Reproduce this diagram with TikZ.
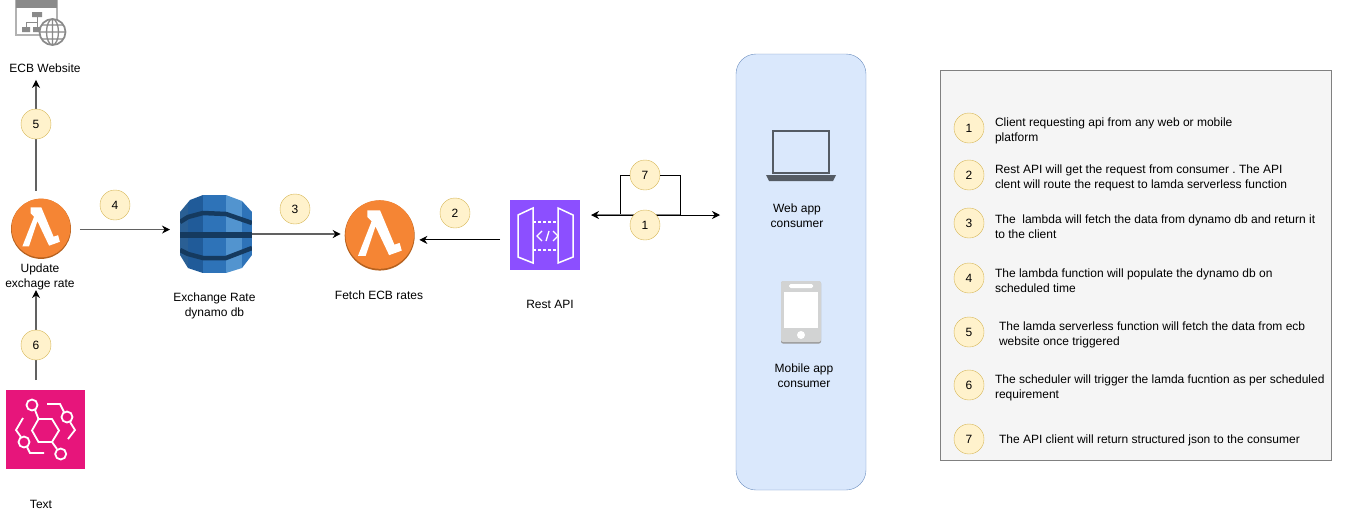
\documentclass[tikz,border=0pt]{standalone}
\usepackage{fontspec}
\setmainfont{Liberation Sans}
\usetikzlibrary{arrows.meta}
\frenchspacing

\definecolor{badgefill}{HTML}{FFF2CC}
\definecolor{badgeline}{HTML}{D6B656}
\definecolor{lamorange}{HTML}{F58534}
\definecolor{lamrim}{HTML}{B5611F}
\definecolor{panelfill}{HTML}{DAE8FC}
\definecolor{panelline}{HTML}{6C8EBF}
\definecolor{notefill}{HTML}{F5F5F5}
\definecolor{noteline}{HTML}{808080}
\definecolor{dbouter}{HTML}{2A5F94}
\definecolor{dbleft}{HTML}{205B99}
\definecolor{dbmid}{HTML}{2E73B8}
\definecolor{dbright}{HTML}{5294CF}
\definecolor{dbdark}{HTML}{153A5F}
\definecolor{apipurple}{HTML}{8C4FFF}
\definecolor{eventpink}{HTML}{E7157B}
\definecolor{laptopgrey}{HTML}{545B64}
\definecolor{phonegrey}{HTML}{D2D3D3}
\definecolor{webgrey}{HTML}{8A8A8A}

\tikzstyle{badge}=[circle, minimum width=30, inner sep=0, outer sep=0, draw=badgeline, fill=badgefill, font=\fontsize{12}{15}\selectfont]
\tikzstyle{label}=[align=center, inner sep=0, outer sep=0, font=\fontsize{12}{15}\selectfont]
\tikzstyle{noteline}=[anchor=west, align=left, inner sep=0, outer sep=0, font=\fontsize{12}{15}\selectfont]
\tikzstyle{lamnode}=[circle, inner sep=0, outer sep=0]
\tikzstyle{iconbox}=[rectangle, inner sep=0, outer sep=0]
\tikzstyle{flow}=[line width=1, -{Stealth[length=8,width=8]}]
\tikzstyle{greyflow}=[line width=1.2, black!62, -{Stealth[length=8,width=8,black]}]

\tikzset{
  lamicon/.pic={
    \fill[lamrim] (0,0.03) circle (1);
    \fill[lamorange] (0,0) circle (0.98);
    \fill[white] (-0.35,-0.69) -- (0.01,-0.69) -- (0.42,0.29) -- (0.57,0.24) -- (0.63,0.46) -- (0.27,0.59)
      -- (-0.12,-0.23) -- (-0.40,0.61) -- (-0.62,0.61) -- (-0.23,-0.38) -- (-0.35,-0.5) -- cycle;
  }
}

\begin{document}
\begin{tikzpicture}[x=1pt, y=-1pt]
  \useasboundingbox (0,0) rectangle (1360,520);

  % panels
  \node[iconbox, minimum width=130, minimum height=436, rounded corners=20, draw=panelline, fill=panelfill] (consumers) at (801,272) {};
  \node[iconbox, minimum width=391, minimum height=390, draw=noteline, fill=notefill] (notes) at (1136,265.5) {};

  % ecb website
  \node[iconbox, minimum width=50, minimum height=46] (website) at (41,23) {};
  \fill[white] (16,0) rectangle (57,35);
  \draw[black!30, line width=1.2] (16,0) rectangle (57,35);
  \fill[webgrey] (16,0) rectangle (57,8);
  \fill[webgrey] (32,12) rectangle (42,17) (22,27) rectangle (30,32) (33,27) rectangle (40,32);
  \draw[webgrey] (37,17) -- (37,22) (26,27) -- (26,22) -- (37,22) -- (37,27);
  \draw[webgrey, line width=1.7, fill=white] (52.5,32) circle (13);
  \draw[webgrey, line width=1.3] (52.5,32) ellipse (6 and 13) (52.5,19) -- (52.5,45) (39.5,32) -- (65.5,32)
    (41.5,25) -- (63.5,25) (41.5,39) -- (63.5,39);
  \node[label] (ecblabel) at (45,68.5) {ECB Website};

  % lambdas
  \node[lamnode, minimum width=60] (lamupdate) at (41,228) {};
  \pic[scale=30] at (lamupdate) {lamicon};
  \node[label] (updatelabel) at (40,277) {Update\\exchage rate};
  \node[lamnode, minimum width=70] (lamfetch) at (379.7,234.5) {};
  \pic[scale=35] at (lamfetch) {lamicon};
  \node[label] (fetchlabel) at (379,295.5) {Fetch ECB rates};

  % dynamo db
  \node[iconbox, minimum width=72, minimum height=78] (dynamo) at (216,234) {};
  \begin{scope}
    \clip (180,212) -- (190,200) -- (203,195) -- (226,195) -- (242,201) -- (252,212) -- (252,255)
      -- (242,268) -- (226,273) -- (203,273) -- (188,268) -- (180,255) -- cycle;
    \fill[dbouter] (180,195) rectangle (188,273);
    \fill[dbleft] (188,195) rectangle (203,273);
    \fill[dbmid] (203,195) rectangle (226,273);
    \fill[dbright] (226,195) rectangle (242,273);
    \fill[dbmid] (242,195) rectangle (252,273);
    \draw[dbdark, line width=4.5] (180,222) -- (188,217) -- (203,213) -- (226,214) -- (252,223);
    \draw[dbdark, line width=6] (180,235) -- (252,235);
    \draw[dbdark, line width=4.5] (180,250) -- (188,254) -- (203,258) -- (226,258) -- (252,248);
  \end{scope}
  \node[label] (dynamolabel) at (214.5,305.5) {Exchange Rate\\dynamo db};

  % rest api
  \node[iconbox, minimum width=70, minimum height=70, fill=apipurple] (restapi) at (545,235) {};
  \draw[white, line width=1.5] (518,215) -- (533,208) -- (533,263) -- (518,257) -- cycle;
  \draw[white, line width=1.5] (558,208) -- (573,215) -- (573,257) -- (558,263) -- cycle;
  \draw[white, line width=1.3, dash pattern=on 3 off 2] (533,222) -- (558,222) (533,250) -- (558,250);
  \draw[white, line width=1.3] (542,231) -- (537,236) -- (542,241) (549,231) -- (546,241) (553,231) -- (558,236) -- (553,241);
  \node[label] (apilabel) at (550,304.5) {Rest API};

  % event bridge
  \node[iconbox, minimum width=79, minimum height=79, fill=eventpink] (scheduler) at (45.5,429.5) {};
  \draw[white, line width=1.8] (32,430.5) -- (38.5,419) -- (52,419) -- (59,430.5) -- (52,442) -- (38.5,442) -- cycle;
  \draw[white, line width=1.8] (32,405) circle (5.5) (67,417) circle (5.5) (24,442) circle (5.5) (60.7,454) circle (5.5);
  \draw[white, line width=1.8] (35,410) -- (38.5,419) (52,442) -- (57,449);
  \draw[white, line width=1.8] (47,404) -- (60,404) -- (64,412) (70,422) -- (75,430) -- (68,439);
  \draw[white, line width=1.8] (23,418) -- (16,430) -- (21,437) (27,447) -- (30,453) -- (44,453);
  \node[label] (schedlabel) at (41,504.5) {Text};

  % consumers
  \node[iconbox, minimum width=70, minimum height=50] (laptop) at (801,156) {};
  \draw[laptopgrey, line width=1.4] (773,131) rectangle (829,173);
  \fill[laptopgrey] (766,175) -- (836,175) -- (833,181) -- (769,181) -- cycle;
  \node[label] (weblabel) at (797,216) {Web app\\consumer};
  \node[iconbox, minimum width=40, minimum height=62, rounded corners=2, fill=black!40] (phone) at (801,312.5) {};
  \fill[phonegrey, rounded corners=2] (781,281) rectangle (821,342);
  \fill[white] (784,292) rectangle (818,328);
  \fill[white, rounded corners=1.5] (789,284) rectangle (813,288);
  \fill[white] (801,335) circle (4);
  \node[label] (mobilelabel) at (804,375.5) {Mobile app\\consumer};

  % connectors
  \coordinate (leftline) at (36,0);
  \coordinate (apirow) at (0,215);
  \coordinate (loopl) at (620,215);
  \coordinate (loopr) at (680,215);
  \node[badge] (s7) at (645,175) {7};
  \draw[line width=1] (loopl) |- (s7.west);
  \draw[line width=1] (s7.east) -| (loopr);
  \draw[greyflow, shorten <=7.5, shorten >=7] (lamupdate.north -| leftline) -- (ecblabel.south -| leftline);
  \draw[greyflow, shorten <=10] (scheduler.north -| leftline) -- (updatelabel.south -| leftline);
  \draw[greyflow, shorten <=9, shorten >=10] (lamupdate.-3) -- (dynamo.west |- lamupdate.-3);
  \draw[greyflow, shorten >=4] (dynamo.east) -- (lamfetch.west |- dynamo.east);
  \draw[flow, shorten <=10, shorten >=5] (restapi.188) -- (lamfetch.-8 |- restapi.188);
  \draw[line width=1.6, black!50, shorten <=13] (restapi.east |- apirow) -- (loopr);
  \draw[line width=0.9, {Stealth[length=8,width=8]}-{Stealth[length=8,width=8]}, shorten <=11, shorten >=16] (restapi.east |- apirow) -- (consumers.west |- apirow);

  % step badges
  \node[badge] (s1) at (645,225) {1};
  \node[badge] (s2) at (455,213) {2};
  \node[badge] (s3) at (295,209) {3};
  \node[badge] (s4) at (115,205) {4};
  \node[badge] (s5) at (36,124) {5};
  \node[badge] (s6) at (36,345) {6};

  % legend
  \node[badge] (n1) at (969,128) {1};
  \node[badge] (n2) at (969,175) {2};
  \node[badge] (n3) at (969,223) {3};
  \node[badge] (n4) at (969,278) {4};
  \node[badge] (n5) at (969,332) {5};
  \node[badge] (n6) at (969,385) {6};
  \node[badge] (n7) at (969,439) {7};
  \node[noteline] (t1) at (995,130.7) {Client requesting api from any web or mobile\\platform};
  \node[noteline] (t2) at (995,177.7) {Rest API will get the request from consumer . The API\\clent will route the request to lamda serverless function};
  \node[noteline] (t3) at (995,226.7) {The \ lambda will fetch the data from dynamo db and return it\\to the client};
  \node[noteline] (t4) at (995,280.7) {The lambda function will populate the dynamo db on\\scheduled time};
  \node[noteline] (t5) at (999,334.7) {The lamda serverless function will fetch the data from ecb\\website once triggered};
  \node[noteline] (t6) at (995,387.7) {The scheduler will trigger the lamda fucntion as per scheduled\\requirement};
  \node[noteline] (t7) at (999,440.7) {The API client will return structured json to the consumer};
\end{tikzpicture}
\end{document}
